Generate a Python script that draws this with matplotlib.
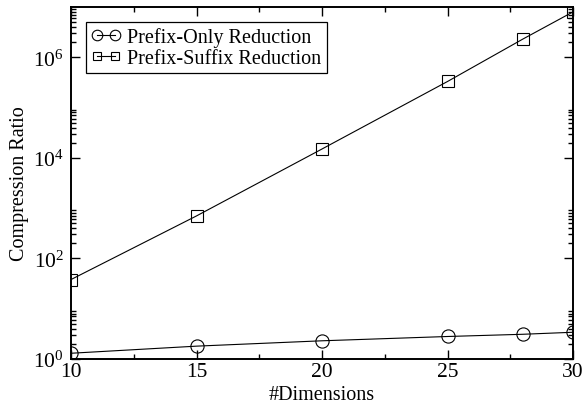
import math
import matplotlib
matplotlib.use("Agg")
import matplotlib.pyplot as plt
from matplotlib.ticker import LogLocator, MultipleLocator, NullFormatter, FuncFormatter

plt.rcParams['font.family'] = ['Liberation Serif', 'DejaVu Serif']
plt.rcParams['mathtext.fontset'] = 'custom'
plt.rcParams['mathtext.rm'] = 'Liberation Serif'
plt.rcParams['mathtext.it'] = 'Liberation Serif:italic'

dims = [10, 15, 20, 25, 28, 30]
prefix_only = [1.3, 1.8, 2.3, 2.8, 3.1, 3.4]
prefix_suffix = [38, 700, 15000, 3.3e5, 2.3e6, 8.0e6]
series_labels = ["Prefix-Only Reduction", "Prefix-Suffix Reduction"]

fig = plt.figure(figsize=(5.84, 4.10), dpi=100)
ax = fig.add_axes([0.1216, 0.122, 0.8596, 0.8585])

ax.plot(dims, prefix_only, color='black', lw=0.8, marker='o', ms=9.5,
        mfc='none', mec='black', mew=0.8, label=series_labels[0])
ax.plot(dims, prefix_suffix, color='black', lw=0.8, marker='s', ms=8,
        mfc='none', mec='black', mew=0.8, label=series_labels[1])

ax.set_yscale('log')
ax.set_xlim(10, 30)
ax.set_ylim(1, 1e7)

ax.xaxis.set_major_locator(MultipleLocator(5))
ax.xaxis.set_minor_locator(MultipleLocator(2.5))
ax.yaxis.set_major_locator(LogLocator(base=100, numticks=10))
ax.yaxis.set_minor_locator(LogLocator(base=100, subs=[2, 3, 4, 5, 6, 7, 8, 9], numticks=20))
ax.yaxis.set_minor_formatter(NullFormatter())
ax.yaxis.set_major_formatter(FuncFormatter(lambda v, p: r'$10^{%d}$' % round(math.log10(v))))

ax.tick_params(which='both', direction='in', top=True, right=True, labelsize=15.5, width=1.0)
ax.tick_params(which='major', length=6.5, pad=2)
ax.tick_params(axis='y', which='major', pad=5)
ax.tick_params(which='minor', length=3.5)
for s in ax.spines.values():
    s.set_linewidth(1.4)

ax.set_xlabel('#Dimensions', fontsize=14.5, labelpad=3)
ax.set_ylabel('Compression Ratio', fontsize=14.5, labelpad=3)

leg = ax.legend(loc='upper left', bbox_to_anchor=(0.022, 0.968), fontsize=14.5,
                frameon=True, fancybox=False, edgecolor='black', framealpha=1,
                handlelength=1.5, handletextpad=0.3, borderpad=0.25, labelspacing=0.1,
                numpoints=2, markerscale=0.8, borderaxespad=0.2)
leg.get_frame().set_linewidth(0.9)

fig.savefig('out.png', dpi=100)
